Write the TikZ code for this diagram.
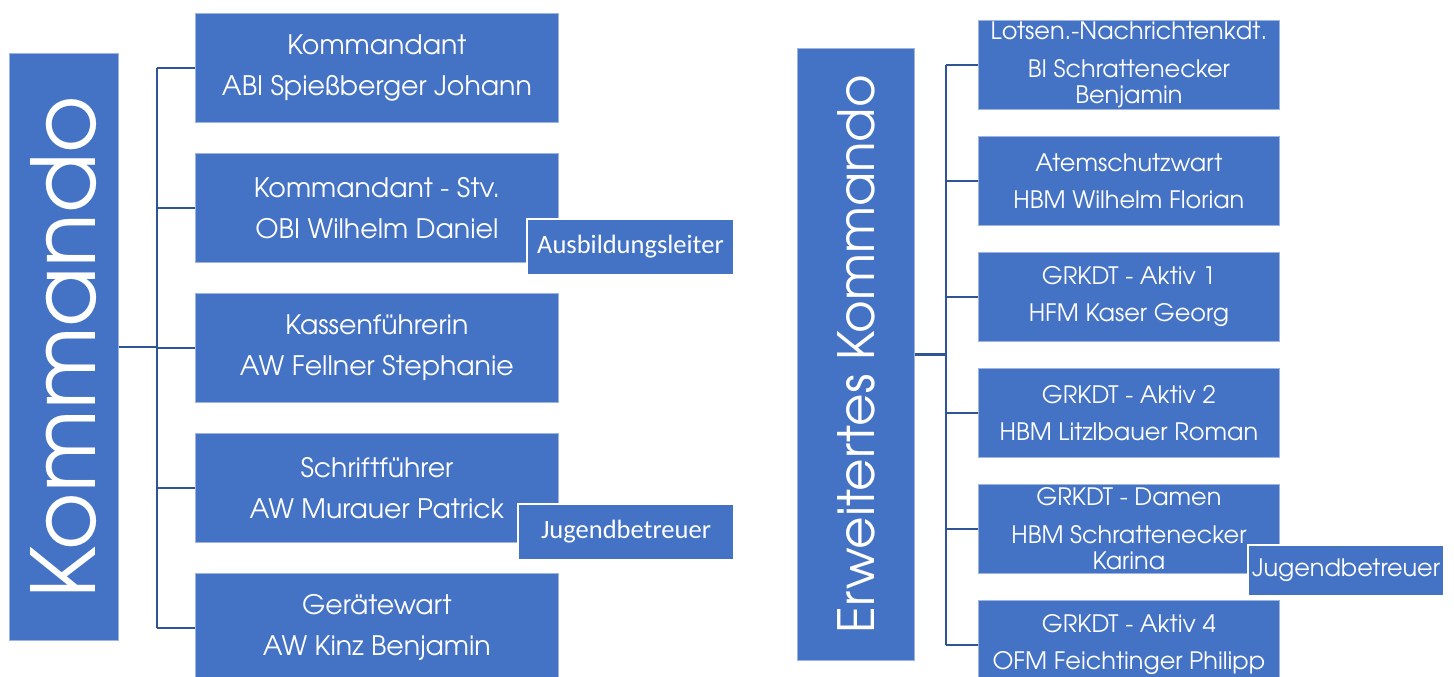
\documentclass[tikz,border=0pt]{standalone}
\usepackage{fontspec}
\setmainfont{texgyreadventor-regular.otf}
\newfontfamily\calfont{Carlito}
\definecolor{boxblue}{HTML}{4472C4}
\definecolor{edgeblue}{HTML}{9DB3E0}
\definecolor{conncol}{HTML}{2F5597}
\begin{document}
\begin{tikzpicture}[x=1pt,y=-1pt,
  box/.style={fill=boxblue, draw=edgeblue, line width=0.8pt, text=white, inner sep=0pt, anchor=north west, align=center},
  lbox/.style={box, minimum width=363pt, minimum height=109pt, font=\fontsize{26.8}{41}\selectfont},
  rbox/.style={box, minimum width=301pt, minimum height=89pt, font=\fontsize{24}{26}\selectfont},
  tagbox/.style={box, draw=white, line width=2pt},
  vtext/.style={text=white, inner sep=0pt, rotate=90},
  conn/.style={draw=conncol, line width=2.4pt}]
\useasboundingbox (0,0) rectangle (1454,677);
% left group
\node[box, minimum width=109pt, minimum height=587pt] (K) at (9,53) {};
\node[vtext, font=\fontsize{88}{88}\selectfont] (Kt) at (K.center) {Kommando};
\node[lbox] (a1) at (195,13) {Kommandant\\ABI Spießberger Johann};
\node[lbox] (a2) at (195,153) {Kommandant - Stv.\\OBI Wilhelm Daniel};
\node[lbox] (a3) at (195,293) {Kassenführerin\\AW Fellner Stephanie};
\node[lbox] (a4) at (195,433) {Schriftführer\\AW Murauer Patrick};
\node[lbox] (a5) at (195,573) {Gerätewart\\AW Kinz Benjamin};
\node[tagbox, minimum width=207pt, minimum height=56pt, font=\calfont\fontsize{26.5}{26.5}\selectfont] (t1) at (526,218) {Ausbildungsleiter};
\node[tagbox, minimum width=216pt, minimum height=56pt, font=\calfont\fontsize{26.5}{26.5}\selectfont] (t2) at (517,503) {Jugendbetreuer};
\coordinate (busL) at (157,0);
\draw[conn] (K.east) -- (K.east -| busL);
\draw[conn] (busL |- a1.west) -- (busL |- a5.west);
\foreach \n in {a1,a2,a3,a4,a5} \draw[conn] (busL |- \n.west) -- (\n.west);
% right group
\node[box, minimum width=117pt, minimum height=612pt] (E) at (797,48) {};
\node[vtext, font=\fontsize{50}{50}\selectfont] (Et) at (E.center) {Erweitertes Kommando};
\node[rbox] (b1) at (978,20) {Lotsen.-Nachrichtenkdt.\\[12pt]BI Schrattenecker\\Benjamin};
\node[rbox] (b2) at (978,136) {Atemschutzwart\\[11pt]HBM Wilhelm Florian};
\node[rbox] (b3) at (978,252) {GRKDT - Aktiv 1\\[11pt]HFM Kaser Georg};
\node[rbox] (b4) at (978,368) {GRKDT - Aktiv 2\\[11pt]HBM Litzlbauer Roman};
\node[rbox] (b5) at (978,484) {GRKDT - Damen\\[12pt]HBM Schrattenecker\\Karina};
\node[rbox] (b6) at (978,600) {GRKDT - Aktiv 4\\[11pt]OFM Feichtinger Philipp};
\node[tagbox, minimum width=196pt, minimum height=51pt, font=\fontsize{24}{24}\selectfont] (t3) at (1247,544) {Jugendbetreuer};
\coordinate (busR) at (946,0);
\draw[conn] (E.east) -- (E.east -| busR);
\draw[conn] (busR |- b1.west) -- (busR |- b6.west);
\foreach \n in {b1,b2,b3,b4,b5,b6} \draw[conn] (busR |- \n.west) -- (\n.west);
\end{tikzpicture}
\end{document}
